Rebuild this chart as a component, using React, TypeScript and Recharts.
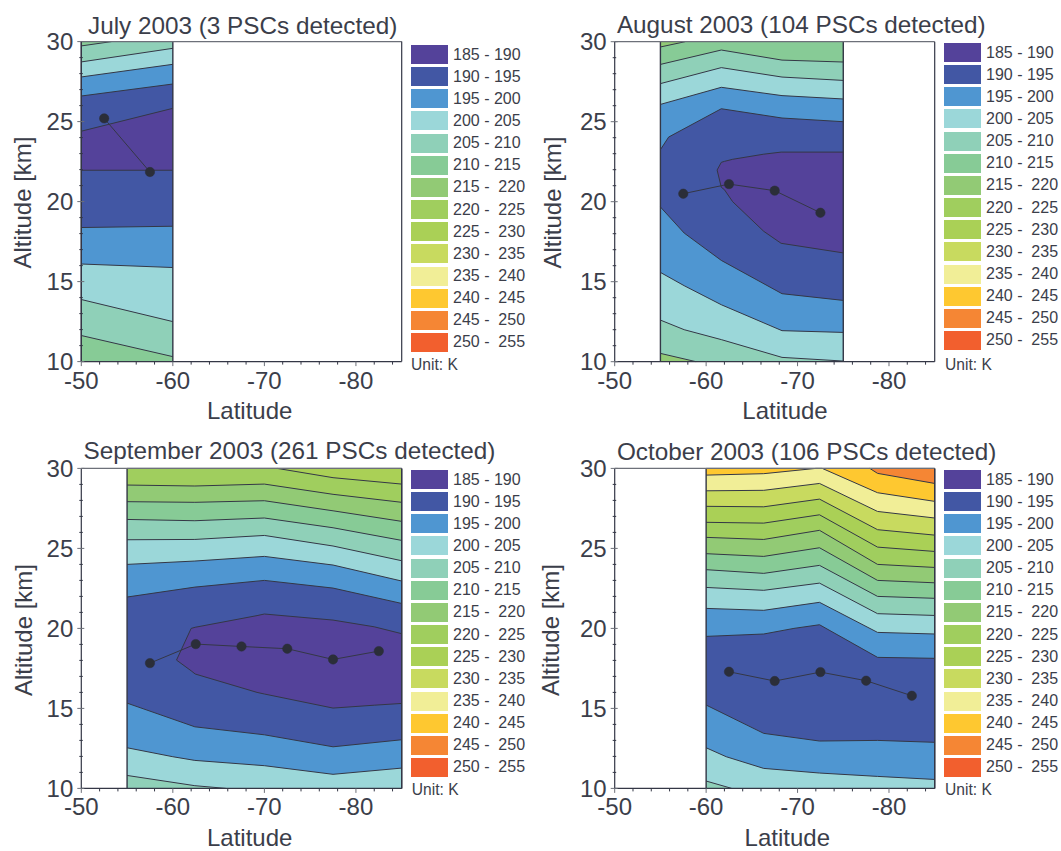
import React from 'react';
import { ComposedChart, Area, Line, XAxis, YAxis, ReferenceLine } from 'recharts';

type Pt = [number, number];
type Iso = { band: number; line: Pt[] };

// ---- shared scales / legend ----
const bandLabels = ['185 - 190', '190 - 195', '195 - 200', '200 - 205', '205 - 210', '210 - 215', '215 -  220', '220 -  225', '225 -  230', '230 -  235', '235 -  240', '240 -  245', '245 -  250', '250 -  255'];
const bandColors = ['#54429a', '#4257a4', '#4f96d1', '#9bd7d9', '#8fd0b8', '#87cb96', '#92ca75', '#a0ce5e', '#aad056', '#c8da5f', '#f1ee97', '#fec830', '#f58634', '#f25f2e'];
const xTickValues = [-50, -52, -54, -56, -58, -60, -62, -64, -66, -68, -70, -72, -74, -76, -78, -80, -82, -84];
const xMajor = [-50, -60, -70, -80];
const yTickValues = [10, 11, 12, 13, 14, 15, 16, 17, 18, 19, 20, 21, 22, 23, 24, 25, 26, 27, 28, 29, 30];
const yMajor = [10, 15, 20, 25, 30];

// ---- July 2003 ----
const julyRange: Pt = [-50, -60];
const julyCore = 0;
const julyAbove: Iso[] = [
  { band: 1, line: [[-50, 24.4], [-60, 25.83]] },
  { band: 2, line: [[-50, 26.6], [-60, 27.35]] },
  { band: 3, line: [[-50, 27.79], [-60, 28.58]] },
  { band: 4, line: [[-50, 28.73], [-60, 29.58]] },
  { band: 5, line: [[-50, 29.73], [-53.3, 30]] },
];
const julyBelow: Iso[] = [
  { band: 1, line: [[-50, 21.96], [-60, 21.96]] },
  { band: 2, line: [[-50, 18.38], [-60, 18.46]] },
  { band: 3, line: [[-50, 16.1], [-60, 15.88]] },
  { band: 4, line: [[-50, 13.88], [-60, 12.5]] },
  { band: 5, line: [[-50, 11.63], [-60, 10.31]] },
];
const julyPocket: [number, number, number][] = [];
const julyPsc: Pt[] = [[-52.5, 25.2], [-57.5, 21.85]];

// ---- August 2003 ----
const augRange: Pt = [-55, -75];
const augCore = 1;
const augAbove: Iso[] = [
  { band: 2, line: [[-55, 23.25], [-55.9, 24.04], [-61.66, 25.81], [-68.3, 25.23], [-75, 25]] },
  { band: 3, line: [[-55, 26.08], [-61.66, 27.15], [-68.3, 26.63], [-75, 26.42]] },
  { band: 4, line: [[-55, 27.38], [-61.66, 28.38], [-68.3, 27.79], [-75, 27.58]] },
  { band: 5, line: [[-55, 28.58], [-61.66, 29.48], [-68.3, 28.85], [-75, 28.73]] },
  { band: 6, line: [[-55, 29.67], [-57.7, 30]] },
];
const augBelow: Iso[] = [
  { band: 2, line: [[-55, 19.67], [-57.6, 18.04], [-61.66, 16.33], [-68.3, 14.25], [-75, 13.83]] },
  { band: 3, line: [[-55, 15.58], [-57.6, 14.75], [-61.66, 13.56], [-68.3, 11.94], [-75, 11.83]] },
  { band: 4, line: [[-55, 12.6], [-57.6, 12], [-61.66, 11.38], [-68.3, 10.27], [-75, 10.04]] },
  { band: 6, line: [[-55, 10.52], [-58.9, 10]] },
];
const augPocket: [number, number, number][] = [
  [-61.2, 21.98, 21.98], [-61.66, 20.9, 22.46], [-62, 20.75, 22.52], [-62.9, 20, 22.65],
  [-66.3, 18.15, 22.97], [-68.2, 17.4, 23.1], [-75, 16.8, 23.1],
];
const augPsc: Pt[] = [[-57.5, 20.5], [-62.5, 21.1], [-67.5, 20.69], [-72.5, 19.31]];

// ---- September 2003 ----
const sepRange: Pt = [-55, -85];
const sepCore = 1;
const sepAbove: Iso[] = [
  { band: 2, line: [[-55, 21.96], [-62.4, 22.58], [-70, 23], [-77.5, 22.52], [-85, 21.56]] },
  { band: 3, line: [[-55, 24], [-62.4, 24.21], [-70, 24.5], [-77.5, 23.96], [-85, 22.96]] },
  { band: 4, line: [[-55, 25.54], [-62.4, 25.56], [-70, 25.81], [-77.5, 25.15], [-85, 24.23]] },
  { band: 5, line: [[-55, 26.81], [-62.4, 26.73], [-70, 26.9], [-77.5, 26.29], [-85, 25.5]] },
  { band: 6, line: [[-55, 27.92], [-62.4, 27.88], [-70, 27.98], [-77.5, 27.35], [-85, 26.69]] },
  { band: 7, line: [[-55, 28.96], [-62.4, 28.9], [-70, 29.02], [-77.5, 28.38], [-85, 27.88]] },
  { band: 8, line: [[-71.4, 30], [-77.5, 29.42], [-85, 29.02]] },
];
const sepBelow: Iso[] = [
  { band: 2, line: [[-55, 15.33], [-62.4, 13.85], [-70, 13.35], [-77.5, 12.6], [-85, 13.04]] },
  { band: 3, line: [[-55, 12.54], [-60, 11.98], [-62.4, 11.75], [-70, 11.42], [-77.5, 10.88], [-85, 11.27]] },
  { band: 4, line: [[-55, 10.81], [-62.4, 10.17], [-65.8, 10]] },
];
const sepPocket: [number, number, number][] = [
  [-60.4, 18.02, 18.02], [-62, 17.35, 20], [-62.44, 17.15, 20.07], [-69.2, 16, 20.8],
  [-70, 15.9, 20.9], [-77.5, 15.02, 20.52], [-82, 15.2, 20.1], [-85, 15.31, 19.67],
];
const sepPsc: Pt[] = [[-57.5, 17.83], [-62.5, 19.02], [-67.5, 18.87], [-72.5, 18.73], [-77.5, 18.06], [-82.5, 18.58]];

// ---- October 2003 ----
const octRange: Pt = [-60, -85];
const octCore = 1;
const octAbove: Iso[] = [
  { band: 2, line: [[-60, 19.5], [-66.3, 19.65], [-69.6, 20], [-72.4, 20.23], [-78.75, 18.19], [-85, 18.13]] },
  { band: 3, line: [[-60, 21.25], [-66.3, 21.13], [-72.4, 21.63], [-78.75, 19.75], [-85, 19.65]] },
  { band: 4, line: [[-60, 22.56], [-66.3, 22.38], [-72.4, 22.83], [-78.75, 20.92], [-85, 20.81]] },
  { band: 5, line: [[-60, 23.67], [-66.3, 23.44], [-72.4, 23.94], [-78.75, 22], [-85, 21.88]] },
  { band: 6, line: [[-60, 24.67], [-66.3, 24.5], [-72.4, 25.04], [-78.75, 23], [-85, 22.85]] },
  { band: 7, line: [[-60, 25.69], [-66.3, 25.56], [-72.4, 26.13], [-78.75, 24], [-85, 23.81]] },
  { band: 8, line: [[-60, 26.63], [-66.3, 26.58], [-72.4, 27.1], [-78.75, 25.08], [-85, 24.81]] },
  { band: 9, line: [[-60, 27.63], [-66.3, 27.6], [-72.4, 28.08], [-78.75, 26.17], [-85, 25.83]] },
  { band: 10, line: [[-60, 28.6], [-66.3, 28.63], [-72.4, 29.06], [-78.75, 27.31], [-85, 26.9]] },
  { band: 11, line: [[-60, 29.58], [-66.3, 29.67], [-72, 30], [-72.7, 30], [-78.75, 28.48], [-85, 27.94]] },
  { band: 12, line: [[-77.9, 30], [-78.75, 29.69], [-85, 29.06]] },
];
const octBelow: Iso[] = [
  { band: 2, line: [[-60, 15.21], [-62.95, 14.38], [-66.3, 13.44], [-72.4, 12.96], [-78.75, 13], [-85, 12.88]] },
  { band: 3, line: [[-60, 12.54], [-62.2, 11.98], [-66.3, 11.25], [-72.4, 10.96], [-78.75, 10.75], [-85, 10.56]] },
  { band: 4, line: [[-60, 10.46], [-62.8, 10]] },
];
const octPocket: [number, number, number][] = [];
const octPsc: Pt[] = [[-62.5, 17.29], [-67.5, 16.71], [-72.5, 17.27], [-77.5, 16.73], [-82.5, 15.79]];

// ---- panels ----
const panels = [
  { title: 'July 2003 (3 PSCs detected)', range: julyRange, core: julyCore, above: julyAbove, below: julyBelow, pocket: julyPocket, psc: julyPsc,
    left: 0, top: 0, plot: [81.3, 41.6, 320.4, 320], titleAt: [88, 33.8], xLabelAt: [249.7, 419], yLabelAt: [31, 202.5], legend: [411, 45], unitAt: [411, 370] },
  { title: 'August 2003 (104 PSCs detected)', range: augRange, core: augCore, above: augAbove, below: augBelow, pocket: augPocket, psc: augPsc,
    left: 530, top: 0, plot: [84.7, 41.7, 320, 320], titleAt: [86.9, 32.9], xLabelAt: [255, 419], yLabelAt: [31, 202.5], legend: [944, 43], unitAt: [945, 370] },
  { title: 'September 2003 (261 PSCs detected)', range: sepRange, core: sepCore, above: sepAbove, below: sepBelow, pocket: sepPocket, psc: sepPsc,
    left: 0, top: 425, plot: [81.3, 43.4, 320.4, 320], titleAt: [83.5, 34], xLabelAt: [249.7, 421], yLabelAt: [32, 205], legend: [411, 470], unitAt: [411.8, 795.5] },
  { title: 'October 2003 (106 PSCs detected)', range: octRange, core: octCore, above: octAbove, below: octBelow, pocket: octPocket, psc: octPsc,
    left: 530, top: 425, plot: [84.7, 43.4, 320, 320], titleAt: [86.9, 34.8], xLabelAt: [257.3, 421], yLabelAt: [29.4, 205], legend: [944, 470], unitAt: [945, 795.5] },
];

const FONT = '"Liberation Sans", Arial, sans-serif';
const INK = '#3b3e4a';
const LINE = '#343746';
const GRID_GREY = '#6d7079';
const DOT = '#2b2e39';
const CHART_W = 530;
const CHART_H = 426;
const AXIS_BOX = 1;

const rows = (pts: Pt[]) => pts.map(([lat, alt]) => ({ lat, alt }));

const BottomTick = ({ x, y, payload }: any) => {
  const major = xMajor.includes(payload.value);
  return (
    <g>
      <line x1={x} x2={x} y1={y} y2={y + (major ? 4.5 : 3)} stroke={major ? GRID_GREY : LINE} strokeWidth={1} />
      {major && (
        <text x={x} y={y + 27} textAnchor="middle" fontSize={24} fontFamily={FONT} fill={INK}>{payload.value}</text>
      )}
    </g>
  );
};
const LeftTick = ({ x, y, payload }: any) => {
  const major = yMajor.includes(payload.value);
  return (
    <g>
      <line x1={x - (major ? 4 : 2)} x2={x + (major ? 3 : 1.5)} y1={y} y2={y} stroke={major ? GRID_GREY : LINE} strokeWidth={1} />
      {major && (
        <text x={x - 8} y={y + 8.6} textAnchor="end" fontSize={24} fontFamily={FONT} fill={INK}>{payload.value}</text>
      )}
    </g>
  );
};
const TopTick = ({ x, y, payload }: any) => {
  const major = xMajor.includes(payload.value);
  return <line x1={x} x2={x} y1={y} y2={y + (major ? 5 : 3)} stroke={major ? GRID_GREY : LINE} strokeWidth={1} />;
};
const RightTick = ({ x, y, payload }: any) => {
  const major = yMajor.includes(payload.value);
  return <line x1={x - (major ? 5 : 3)} x2={x} y1={y} y2={y} stroke={major ? GRID_GREY : LINE} strokeWidth={1} />;
};

const isoArea = (iso: Iso, base: number, key: string) => (
  <Area
    key={key}
    data={rows(iso.line)}
    dataKey="alt"
    type="linear"
    baseValue={base}
    fill={bandColors[iso.band]}
    fillOpacity={1}
    stroke={LINE}
    strokeWidth={1}
    dot={false}
    activeDot={false}
    isAnimationActive={false}
  />
);

function Panel({ p }: { p: (typeof panels)[number] }) {
  const [px, py, pw, ph] = p.plot;
  const coreRows = p.range.map((lat) => ({ lat, alt: 30 }));
  const pocketRows = p.pocket.map(([lat, lo, hi]) => ({ lat, band: [lo, hi] }));
  return (
    <div style={{ position: 'absolute', left: p.left, top: p.top, width: CHART_W, height: CHART_H }}>
      <ComposedChart
        width={CHART_W}
        height={CHART_H}
        margin={{
          left: px - AXIS_BOX,
          top: py - AXIS_BOX,
          right: CHART_W - px - pw - AXIS_BOX,
          bottom: CHART_H - py - ph - AXIS_BOX,
        }}
      >
        <XAxis xAxisId={0} dataKey="lat" type="number" domain={[-85, -50]} reversed ticks={xTickValues} interval={0}
          height={AXIS_BOX} tickSize={0} tickMargin={0} tickLine={false} axisLine={{ stroke: LINE, strokeWidth: 1.2 }} tick={<BottomTick />} />
        <XAxis xAxisId="top" orientation="top" dataKey="lat" type="number" domain={[-85, -50]} reversed ticks={xTickValues} interval={0}
          height={AXIS_BOX} tickSize={0} tickMargin={0} tickLine={false} axisLine={{ stroke: GRID_GREY, strokeWidth: 1.2 }} tick={<TopTick />} />
        <YAxis yAxisId={0} type="number" domain={[10, 30]} ticks={yTickValues} interval={0}
          width={AXIS_BOX} tickSize={0} tickMargin={0} tickLine={false} axisLine={{ stroke: LINE, strokeWidth: 1.2 }} tick={<LeftTick />} />
        <YAxis yAxisId="right" orientation="right" type="number" domain={[10, 30]} ticks={yTickValues} interval={0}
          width={AXIS_BOX} tickSize={0} tickMargin={0} tickLine={false} axisLine={{ stroke: LINE, strokeWidth: 1.2 }} tick={<RightTick />} />

        <Area data={coreRows} dataKey="alt" type="linear" baseValue={10} fill={bandColors[p.core]} fillOpacity={1}
          stroke={LINE} strokeWidth={1} dot={false} activeDot={false} isAnimationActive={false} />
        {p.above.map((iso, i) => isoArea(iso, 30, `a${i}`))}
        {p.below.map((iso, i) => isoArea(iso, 10, `b${i}`))}
        {p.pocket.length > 0 && (
          <Area data={pocketRows} dataKey="band" type="linear" fill={bandColors[0]} fillOpacity={1} stroke={LINE} strokeWidth={1}
            dot={false} activeDot={false} isAnimationActive={false} />
        )}
        {p.range.map((lat) => (
          <ReferenceLine key={lat} x={lat} stroke={LINE} strokeWidth={1.4} ifOverflow="visible" />
        ))}
        <Line data={rows(p.psc)} dataKey="alt" type="linear" stroke={LINE} strokeWidth={1}
          dot={{ r: 4.7, fill: DOT, stroke: DOT, strokeWidth: 0.5 }} activeDot={false} isAnimationActive={false} />

        <text x={p.titleAt[0]} y={p.titleAt[1]} fontSize={24.3} fontFamily={FONT} fill={INK}>{p.title}</text>
        <text x={p.xLabelAt[0]} y={p.xLabelAt[1]} fontSize={24} fontFamily={FONT} fill={INK} textAnchor="middle">Latitude</text>
        <text transform={`translate(${p.yLabelAt[0]} ${p.yLabelAt[1]}) rotate(-90)`} fontSize={24} fontFamily={FONT} fill={INK} textAnchor="middle">Altitude [km]</text>
      </ComposedChart>
    </div>
  );
}

function ColorKey({ p }: { p: (typeof panels)[number] }) {
  return (
    <>
      {bandLabels.map((label, i) => (
        <div key={label} style={{ position: 'absolute', left: p.legend[0], top: p.legend[1] + i * 22.15, height: 19, display: 'flex', alignItems: 'center', whiteSpace: 'pre', fontFamily: FONT, fontSize: 16, color: INK }}>
          <span style={{ display: 'inline-block', width: 37, height: 19, background: bandColors[i], marginRight: 5 }} />
          <span>{label}</span>
        </div>
      ))}
      <div style={{ position: 'absolute', left: p.unitAt[0], top: p.unitAt[1] - 14.5, fontFamily: FONT, fontSize: 15.6, lineHeight: '18px', color: INK }}>Unit: K</div>
    </>
  );
}

export default function App() {
  return (
    <div style={{ position: 'absolute', left: 0, top: 0, width: 1061, height: 851, background: '#fff', overflow: 'hidden' }}>
      {panels.map((p) => <Panel key={p.title} p={p} />)}
      {panels.map((p) => <ColorKey key={p.title} p={p} />)}
    </div>
  );
}
